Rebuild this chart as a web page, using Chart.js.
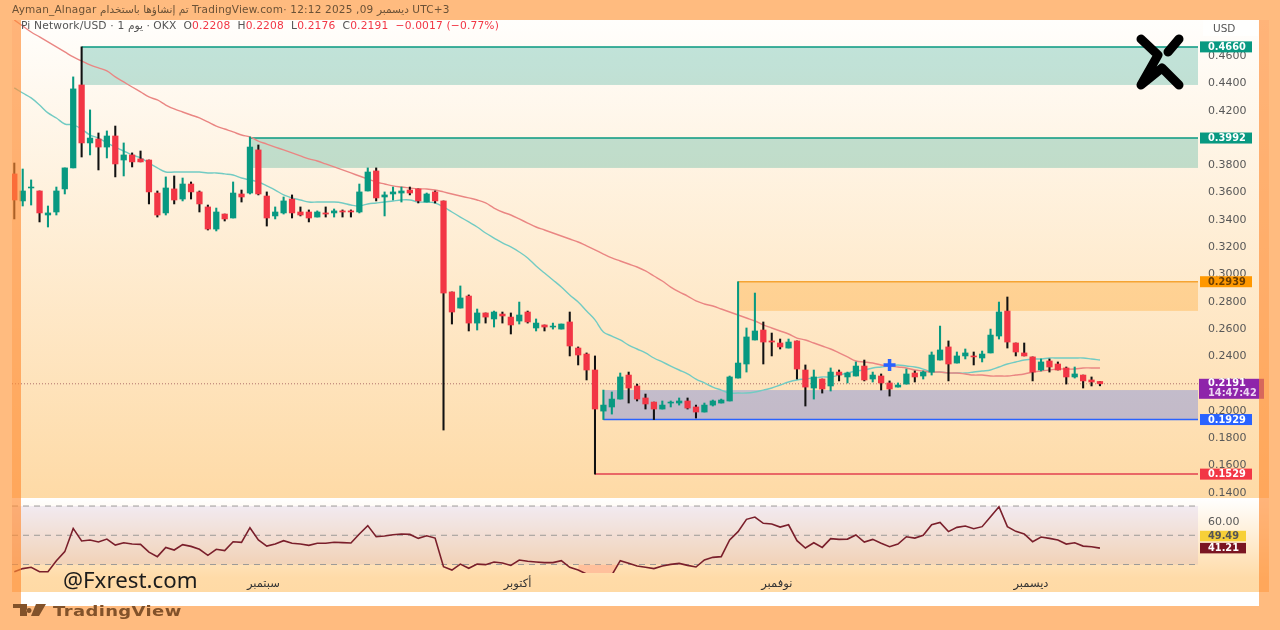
<!DOCTYPE html>
<html lang="ar">
<head>
<meta charset="utf-8">
<title>Pi Network/USD</title>
<script src="https://cdn.jsdelivr.net/npm/chart.js@4"></script>
<style>
  html, body { margin: 0; padding: 0; background: #ffbb7f; overflow: hidden; }
  #wrap { position: relative; width: 1280px; height: 630px; direction: ltr; font-family: 'DejaVu Sans', sans-serif; }
  canvas { position: absolute; left: 0; top: 0; }
  .txt { position: absolute; white-space: nowrap; direction: ltr; }
  #header { left: 12px; top: 2px; font-size: 10.5px; line-height: 14px; color: #6a5136; letter-spacing: 0.2px; }
  #legend { left: 21px; top: 19px; font-size: 10.7px; line-height: 14px; color: #555; letter-spacing: 0.15px; }
  #legend b { font-weight: normal; color: #f23645; }
  #usd { left: 1203px; top: 20px; width: 45px; padding-left: 10px; height: 16px; line-height: 16px; font-size: 10.5px; color: #555; background: rgba(255,255,255,.7); }
  #site { left: 63px; top: 565px; font-family: 'Noto Sans', sans-serif; font-size: 22.3px; line-height: 30px; color: #1c1c1c; }
  #tvname { left: 53px; top: 602px; font-size: 14.5px; line-height: 18px; font-weight: bold; color: #82522a; letter-spacing: 0.3px; transform: scaleX(1.24); transform-origin: left center; }
  svg { position: absolute; left: 0; top: 0; pointer-events: none; }
</style>
</head>
<body>
<div id="wrap">
  <canvas id="chart" width="1280" height="630"></canvas>
  <div class="txt" id="header">Ayman_Alnagar تم إنشاؤها باستخدام TradingView.com· 12:12 2025 ,09 ديسمبر UTC+3</div>
  <div class="txt" id="legend">Pi Network/USD · 1 يوم · OKX &nbsp;O<b>0.2208</b> &nbsp;H<b>0.2208</b> &nbsp;L<b>0.2176</b> &nbsp;C<b>0.2191</b> &nbsp;<b>−0.0017 (−0.77%)</b></div>
  <div class="txt" id="usd">USD</div>
  <div class="txt" id="site">@Fxrest.com</div>
  <div class="txt" id="tvname">TradingView</div>
  <svg width="1280" height="630">
    <g fill="none" stroke="#000" stroke-width="9" stroke-linecap="round" stroke-linejoin="round">
      <path d="M1141 39 L1158 55 L1141 85 L1162 68 L1179 85"/>
      <path d="M1168 52 L1179 39"/>
    </g>
    <path d="M13 604 H27 V616 H20 V608 H13 Z M29 608 a2.5 2.5 0 1 0 0.1 0 Z M36 604 H46 L39 616 H31 Z" fill="#82522a"/>
  </svg>
</div>
<script>
// Daily candles
const opens = [
  .3729,.3531,.3626,.3604,.3428,.3450,.3619,.3773,.4381,.3956,.3985,.3926,.4007,.3831,.3868,.3839,.3831,.3589,.3443,.3619,
  .3545,.3655,.3597,.3487,.3325,.3435,.3406,.3582,.3589,.3905,.3567,.3421,.3443,.3545,.3450,.3450,.3413,.3443,.3443,.3458,
  .3458,.3450,.3604,.3751,.3560,.3582,.3589,.3611,.3619,.3523,.3597,.3531,.2864,.2746,.2834,.2636,.2710,.2666,.2702,.2680,
  .2651,.2717,.2600,.2622,.2607,.2592,.2644,.2453,.2409,.2292,.1991,.2021,.2079,.2255,.2175,.2087,.2057,.2006,.2050,.2050,
  .2065,.2021,.1984,.2035,.2050,.2065,.2233,.2336,.2512,.2585,.2505,.2490,.2453,.2505,.2292,.2160,.2226,.2175,.2277,.2241,
  .2248,.2321,.2226,.2248,.2197,.2167,.2189,.2270,.2248,.2277,.2365,.2461,.2343,.2395,.2395,.2380,.2417,.2541,.2724,.2490,
  .2417,.2388,.2292,.2358,.2336,.2307,.2241,.2255,.2219,.2208
];
const highs = [
  .3809,.3765,.3685,.3604,.3494,.3633,.3773,.4440,.4660,.4198,.4029,.4044,.4080,.3956,.3883,.3897,.3831,.3604,.3707,.3714,
  .3699,.3670,.3604,.3501,.3479,.3435,.3670,.3611,.4000,.3941,.3597,.3487,.3560,.3575,.3487,.3465,.3458,.3487,.3472,.3465,
  .3465,.3655,.3773,.3773,.3597,.3633,.3633,.3633,.3619,.3589,.3604,.3531,.2864,.2908,.2842,.2739,.2710,.2724,.2717,.2710,
  .2790,.2724,.2666,.2622,.2636,.2629,.2717,.2461,.2417,.2395,.2145,.2131,.2270,.2277,.2189,.2116,.2057,.2065,.2065,.2087,
  .2087,.2035,.2050,.2072,.2079,.2248,.2939,.2600,.2856,.2644,.2563,.2519,.2519,.2505,.2329,.2292,.2226,.2307,.2292,.2277,
  .2351,.2365,.2277,.2263,.2212,.2197,.2299,.2285,.2285,.2424,.2614,.2505,.2424,.2446,.2424,.2431,.2592,.2790,.2827,.2490,
  .2490,.2388,.2373,.2373,.2351,.2314,.2314,.2255,.2241,.2208
];
const lows = [
  .3399,.3494,.3501,.3377,.3340,.3428,.3582,.3773,.3853,.3868,.3758,.3846,.3707,.3714,.3780,.3817,.3509,.3413,.3428,.3509,
  .3531,.3545,.3450,.3318,.3311,.3384,.3406,.3523,.3582,.3575,.3347,.3399,.3435,.3406,.3421,.3377,.3413,.3413,.3413,.3413,
  .3413,.3443,.3604,.3531,.3421,.3538,.3523,.3575,.3516,.3523,.3516,.1852,.2629,.2746,.2578,.2585,.2636,.2607,.2636,.2556,
  .2629,.2636,.2578,.2578,.2592,.2592,.2395,.2329,.2219,.1529,.1929,.1969,.2079,.2050,.2065,.2006,.1929,.2006,.2021,.2035,
  .2006,.1940,.1984,.2028,.2050,.2065,.2233,.2277,.2512,.2336,.2395,.2446,.2453,.2226,.2028,.2079,.2123,.2138,.2212,.2197,
  .2248,.2212,.2204,.2145,.2101,.2167,.2189,.2204,.2226,.2255,.2365,.2212,.2343,.2373,.2329,.2351,.2417,.2519,.2453,.2395,
  .2395,.2212,.2285,.2277,.2292,.2189,.2233,.2160,.2175,.2176
];
const closes = [
  .3538,.3604,.3633,.3443,.3443,.3604,.3773,.4352,.3956,.3992,.3926,.4007,.3802,.3868,.3817,.3817,.3597,.3428,.3626,.3538,
  .3655,.3597,.3509,.3325,.3450,.3399,.3589,.3560,.3926,.3582,.3406,.3450,.3531,.3443,.3428,.3406,.3450,.3435,.3458,.3450,
  .3450,.3597,.3743,.3553,.3575,.3597,.3604,.3589,.3531,.3582,.3531,.2856,.2717,.2820,.2636,.2710,.2680,.2717,.2688,.2622,
  .2695,.2644,.2636,.2607,.2614,.2629,.2468,.2402,.2292,.2006,.2035,.2079,.2241,.2160,.2079,.2043,.2006,.2035,.2057,.2065,
  .2013,.1984,.2035,.2065,.2072,.2241,.2343,.2534,.2578,.2497,.2497,.2461,.2497,.2299,.2167,.2241,.2153,.2277,.2255,.2270,
  .2321,.2219,.2255,.2197,.2153,.2182,.2263,.2241,.2277,.2402,.2439,.2336,.2395,.2417,.2388,.2409,.2548,.2717,.2497,.2424,
  .2395,.2277,.2351,.2314,.2292,.2241,.2263,.2212,.2204,.2191
];

// Moving averages
const maFast = [
  .4359,.4322,.4286,.4234,.4176,.4139,.4095,.4088,.4058,.4014,.3992,.3956,.3926,.3897,.3868,.3846,.3809,.3773,.3743,.3743,
  .3743,.3743,.3743,.3736,.3736,.3729,.3721,.3699,.3685,.3670,.3641,.3611,.3575,.3553,.3538,.3523,.3523,.3523,.3523,.3516,
  .3501,.3494,.3509,.3516,.3523,.3531,.3538,.3538,.3523,.3523,.3516,.3487,.3450,.3413,.3377,.3340,.3296,.3259,.3223,.3194,
  .3157,.3113,.3054,.3003,.2952,.2900,.2842,.2790,.2724,.2659,.2571,.2541,.2512,.2475,.2446,.2417,.2380,.2351,.2321,.2292,
  .2263,.2226,.2197,.2167,.2145,.2123,.2123,.2123,.2131,.2145,.2160,.2182,.2204,.2219,.2226,.2233,.2241,.2241,.2255,.2270,
  .2285,.2292,.2307,.2314,.2321,.2329,.2321,.2314,.2299,.2277,.2277,.2270,.2270,.2270,.2277,.2285,.2292,.2314,.2336,.2351,
  .2365,.2373,.2373,.2380,.2380,.2380,.2380,.2380,.2373,.2365
];
const maSlow = [
  .4857,.4813,.4769,.4733,.4696,.4660,.4623,.4586,.4557,.4528,.4506,.4484,.4440,.4403,.4366,.4330,.4293,.4271,.4234,.4205,
  .4183,.4161,.4139,.4110,.4080,.4058,.4037,.4014,.4000,.3970,.3948,.3926,.3905,.3883,.3861,.3839,.3824,.3802,.3780,.3758,
  .3736,.3714,.3692,.3670,.3655,.3641,.3633,.3626,.3619,.3619,.3611,.3597,.3582,.3567,.3553,.3538,.3516,.3479,.3450,.3428,
  .3399,.3369,.3340,.3318,.3296,.3274,.3252,.3230,.3201,.3172,.3142,.3113,.3091,.3069,.3047,.3018,.2981,.2944,.2900,.2864,
  .2834,.2798,.2776,.2761,.2739,.2717,.2695,.2673,.2651,.2622,.2600,.2578,.2556,.2526,.2512,.2490,.2468,.2446,.2417,.2388,
  .2358,.2351,.2343,.2329,.2321,.2314,.2307,.2292,.2285,.2277,.2277,.2270,.2270,.2263,.2255,.2255,.2248,.2248,.2248,.2255,
  .2263,.2277,.2285,.2292,.2299,.2299,.2299,.2307,.2307,.2307
];

// RSI pane
const rsi = [
  25.1,27.2,28.1,25.1,25.1,32.6,38.8,54.7,46.1,46.8,45.4,47.4,43.3,44.9,44.0,43.8,38.5,35.4,41.7,39.9,
  43.6,42.4,40.4,36.3,40.4,39.5,45.6,45.2,55.2,46.8,42.6,44.0,46.3,44.5,44.0,43.1,44.5,44.5,45.2,45.0,
  44.7,50.9,56.6,49.0,49.5,50.4,50.9,50.6,47.9,49.7,48.1,28.5,26.2,30.3,27.4,30.3,29.9,31.7,31.0,29.4,
  33.1,32.2,31.7,31.3,31.3,32.6,28.1,26.2,23.5,18.3,19.4,22.8,32.6,30.8,29.0,28.1,27.2,29.0,30.1,30.8,
  29.4,28.3,33.1,34.9,35.4,46.8,52.5,60.9,62.5,58.2,57.7,55.6,57.2,46.3,41.3,44.9,41.7,47.7,47.2,47.4,
  50.2,45.4,47.2,44.5,42.2,44.0,49.0,48.1,50.0,57.2,58.8,52.5,55.4,56.3,54.5,55.9,62.7,69.5,55.9,52.7,
  50.9,45.6,48.8,47.9,46.8,44.0,44.9,42.6,42.2,41.21
];
const rsiLevels = [70, 50, 30];
const rsiPatchFrom = 67, rsiPatchTo = 72;

// Axis ticks
const priceTicks = [.14,.16,.18,.20,.22,.24,.26,.28,.30,.32,.34,.36,.38,.42,.44,.46];
const rsiTicks = [60];
const monthNames = ['سبتمبر', 'أكتوبر', 'نوفمبر', 'ديسمبر'];
const monthPositions = [29.6, 59.8, 90.6, 120.8];

// Marked zones and levels (index of the first candle, prices)
const zoneStart = [8, 28, 86, 70];
const zoneTop = [.4660, .3992, .2939, .2145];
const zoneBottom = [.4381, .3773, .2725, .1929];
const zoneColors = ['rgba(8,153,129,.25)', 'rgba(8,153,129,.25)', 'rgba(255,160,30,.32)', 'rgba(60,100,245,.3)'];
const levelStart = [8, 28, 86, 70, 69];
const levelPrice = [.4660, .3992, .2939, .1929, .1529];
const levelColors = ['#089981', '#089981', '#f5a433', '#2962ff', '#e2404f'];
const levelTagFg = ['#fff', '#fff', '#6b3d00', '#fff', '#fff'];
const levelTagBg = ['#089981', '#089981', '#ff9800', '#2962ff', '#f23645'];

const markerIndex = 104;
const markerPrice = .2329;
const lastPrice = .2191;
const countdown = '14:47:42';
const rsiTagValues = [49.49, 41.21];
const rsiTagBg = ['#f7d038', '#7a1522'];
const rsiTagFg = ['#555', '#fff'];

const GREEN = '#089981', RED = '#f23645';
const isUp = opens.map((o, i) => closes[i] >= o);
const FONT = "'DejaVu Sans', sans-serif";

function drawTag(ctx, x, y, w, h, text, bg, fg) {
  ctx.fillStyle = bg;
  ctx.fillRect(x, y - h / 2, w, h);
  ctx.fillStyle = fg;
  ctx.font = 'bold 9.8px ' + FONT;
  ctx.textAlign = 'left';
  ctx.textBaseline = 'middle';
  ctx.fillText(text, 1208, y + 0.5);
}

// Page frame and pane backgrounds
const backgroundPlugin = {
  id: 'paneBackground',
  beforeDraw(chart) {
    const ctx = chart.ctx;
    ctx.save();
    ctx.fillStyle = '#ffbb7f';
    ctx.fillRect(0, 0, 1280, 630);
    let g = ctx.createLinearGradient(0, 20, 0, 498);
    g.addColorStop(0, '#fffefc');
    g.addColorStop(1, '#fedaa6');
    ctx.fillStyle = g;
    ctx.fillRect(12, 20, 1257, 478);
    g = ctx.createLinearGradient(0, 498, 0, 592);
    g.addColorStop(0, '#ffffff');
    g.addColorStop(0.85, '#ffdba8');
    g.addColorStop(1, '#ffdaa5');
    ctx.fillStyle = g;
    ctx.fillRect(12, 498, 1257, 94);
    ctx.fillStyle = '#ffffff';
    ctx.fillRect(21, 592, 1238, 14);
    ctx.restore();
  }
};

// Zones, levels and RSI band under the candles
const zonesPlugin = {
  id: 'zones',
  beforeDatasetsDraw(chart) {
    const { ctx, chartArea, scales } = chart;
    const { x, yPrice, yRsi } = scales;
    ctx.save();
    zoneStart.forEach((s, i) => {
      const top = yPrice.getPixelForValue(zoneTop[i]);
      ctx.fillStyle = zoneColors[i];
      ctx.fillRect(x.getPixelForValue(s), top, chartArea.right - x.getPixelForValue(s), yPrice.getPixelForValue(zoneBottom[i]) - top);
    });
    levelStart.forEach((s, i) => {
      const y = yPrice.getPixelForValue(levelPrice[i]);
      ctx.strokeStyle = levelColors[i];
      ctx.lineWidth = 1.5;
      ctx.beginPath();
      ctx.moveTo(x.getPixelForValue(s), y);
      ctx.lineTo(chartArea.right, y);
      ctx.stroke();
    });
    // last price dotted line
    const lastY = yPrice.getPixelForValue(lastPrice);
    ctx.strokeStyle = '#b0726a';
    ctx.lineWidth = 1;
    ctx.setLineDash([1, 2]);
    ctx.beginPath();
    ctx.moveTo(chartArea.left, lastY);
    ctx.lineTo(chartArea.right, lastY);
    ctx.stroke();
    // RSI band
    const bandTop = yRsi.getPixelForValue(rsiLevels[0]);
    const bandBottom = yRsi.getPixelForValue(rsiLevels[2]);
    ctx.fillStyle = 'rgba(126,87,194,.1)';
    ctx.fillRect(chartArea.left, bandTop, chartArea.right - chartArea.left, bandBottom - bandTop);
    ctx.strokeStyle = '#9c9a98';
    ctx.setLineDash([6, 5]);
    rsiLevels.forEach(level => {
      const y = yRsi.getPixelForValue(level);
      ctx.beginPath();
      ctx.moveTo(chartArea.left, y);
      ctx.lineTo(chartArea.right, y);
      ctx.stroke();
    });
    ctx.restore();
  }
};

// Price tags on the right axis
const tagsPlugin = {
  id: 'priceTags',
  afterDatasetsDraw(chart) {
    const { ctx } = chart;
    const { yPrice, yRsi } = chart.scales;
    ctx.save();
    levelPrice.forEach((price, i) => {
      drawTag(ctx, 1200, yPrice.getPixelForValue(price), 52, 11, price.toFixed(4), levelTagBg[i], levelTagFg[i]);
    });
    rsiTagValues.forEach((v, i) => {
      drawTag(ctx, 1200, yRsi.getPixelForValue(v), 46, 10.5, v.toFixed(2), rsiTagBg[i], rsiTagFg[i]);
    });
    const y = yPrice.getPixelForValue(lastPrice);
    ctx.fillStyle = '#8e24aa';
    ctx.fillRect(1199, y - 5, 65, 20);
    ctx.fillStyle = '#fff';
    ctx.font = 'bold 9.8px ' + FONT;
    ctx.textAlign = 'left';
    ctx.textBaseline = 'middle';
    ctx.fillText(lastPrice.toFixed(4), 1208, y);
    ctx.fillStyle = '#ecd6f2';
    ctx.fillText(countdown, 1208, y + 10);
    ctx.restore();
  }
};

// Darker strips at both sides of the screenshot
const stripsPlugin = {
  id: 'sideStrips',
  afterDraw(chart) {
    const ctx = chart.ctx;
    ctx.save();
    ctx.fillStyle = 'rgba(255,140,50,.65)';
    ctx.fillRect(12, 20, 9, 572);
    ctx.fillRect(1259, 20, 10, 572);
    ctx.restore();
  }
};

const candleIndex = opens.map((_, i) => i);

new Chart(document.getElementById('chart'), {
  type: 'bar',
  data: {
    datasets: [
      {
        type: 'line', label: 'MA fast', yAxisID: 'yPrice', order: 4,
        data: candleIndex.map(i => ({ x: i, y: maFast[i] })),
        borderColor: '#72cbc3', borderWidth: 1.4, pointRadius: 0, tension: 0.4
      },
      {
        type: 'line', label: 'MA slow', yAxisID: 'yPrice', order: 3,
        data: candleIndex.map(i => ({ x: i, y: maSlow[i] })),
        borderColor: '#ea8683', borderWidth: 1.4, pointRadius: 0, tension: 0.4
      },
      {
        label: 'Wicks', yAxisID: 'yPrice', order: 2, grouped: false, barThickness: 1.4,
        data: candleIndex.map(i => ({ x: i, y: [lows[i], highs[i]] })),
        backgroundColor: isUp.map(up => up ? GREEN : '#111111')
      },
      {
        label: 'Bodies', yAxisID: 'yPrice', order: 1, grouped: false, barThickness: 5.6,
        data: candleIndex.map(i => ({ x: i, y: [opens[i], closes[i]] })),
        backgroundColor: isUp.map(up => up ? GREEN : RED)
      },
      {
        type: 'line', label: 'Marker', yAxisID: 'yPrice', order: 0, showLine: false,
        data: [{ x: markerIndex, y: markerPrice }],
        pointStyle: 'cross', pointRadius: 6, pointBorderWidth: 3.5, pointBorderColor: '#2962ff'
      },
      {
        type: 'line', label: 'RSI oversold', yAxisID: 'yRsi', order: 6,
        data: candleIndex.filter(i => i >= rsiPatchFrom && i <= rsiPatchTo).map(i => ({ x: i, y: rsi[i] })),
        borderWidth: 0, pointRadius: 0,
        fill: { target: { value: 30 }, below: '#ffc09c', above: 'rgba(0,0,0,0)' }
      },
      {
        type: 'line', label: 'RSI', yAxisID: 'yRsi', order: 5,
        data: candleIndex.map(i => ({ x: i, y: rsi[i] })),
        borderColor: '#7a1f2b', borderWidth: 1.6, pointRadius: 0
      }
    ]
  },
  options: {
    responsive: false,
    animation: false,
    layout: { padding: { left: 12, top: 20, right: 0, bottom: 38 } },
    plugins: { legend: { display: false }, tooltip: { enabled: false } },
    scales: {
      x: {
        type: 'linear',
        offset: false,
        min: -0.273,
        max: 140.65,
        grid: { display: false, drawTicks: false },
        border: { display: false },
        afterBuildTicks: scale => { scale.ticks = monthPositions.map(v => ({ value: v })); },
        afterFit: scale => { scale.height = 19; },
        ticks: {
          autoSkip: false, maxRotation: 0, padding: 4,
          color: '#333', font: { family: FONT, size: 11.5 },
          callback: (value, index) => monthNames[index]
        }
      },
      yPrice: {
        type: 'linear', position: 'right', stack: 'panes', stackWeight: 478,
        min: 0.1354, max: 0.4857,
        grid: { display: false, drawTicks: false },
        border: { display: false },
        afterBuildTicks: scale => { scale.ticks = priceTicks.map(v => ({ value: v })); },
        afterFit: scale => { scale.width = 82; },
        ticks: {
          autoSkip: false, padding: 10, labelOffset: 1,
          color: '#585858', font: { family: FONT, size: 11 },
          callback: value => value.toFixed(4)
        }
      },
      yRsi: {
        type: 'linear', position: 'right', stack: 'panes', stackWeight: 75,
        min: 24.2, max: 75.5,
        grid: { display: false, drawTicks: false },
        border: { display: false },
        afterBuildTicks: scale => { scale.ticks = rsiTicks.map(v => ({ value: v })); },
        afterFit: scale => { scale.width = 82; },
        ticks: {
          autoSkip: false, padding: 10, labelOffset: 1,
          color: '#585858', font: { family: FONT, size: 11 },
          callback: value => value.toFixed(2)
        }
      }
    }
  },
  plugins: [backgroundPlugin, zonesPlugin, tagsPlugin, stripsPlugin]
});
</script>
</body>
</html>
